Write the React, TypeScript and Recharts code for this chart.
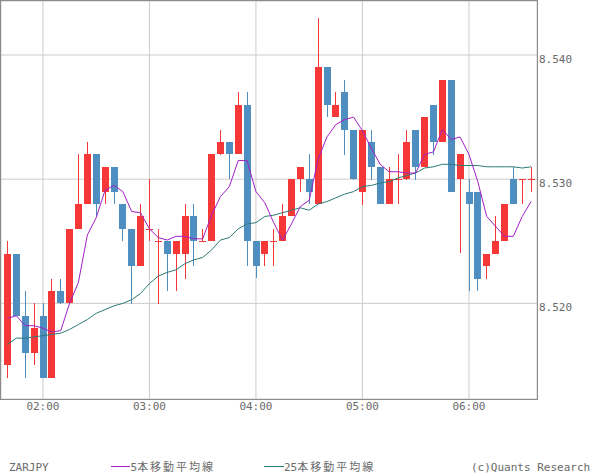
import { ComposedChart, Bar, Line, XAxis, YAxis, CartesianGrid } from 'recharts';

// 5-minute bars, ZARJPY
const times = [
  '01:40', '01:45', '01:50', '01:55', '02:00', '02:05', '02:10', '02:15', '02:20', '02:25', '02:30', '02:35',
  '02:40', '02:45', '02:50', '02:55', '03:00', '03:05', '03:10', '03:15', '03:20', '03:25', '03:30', '03:35',
  '03:40', '03:45', '03:50', '03:55', '04:00', '04:05', '04:10', '04:15', '04:20', '04:25', '04:30', '04:35',
  '04:40', '04:45', '04:50', '04:55', '05:00', '05:05', '05:10', '05:15', '05:20', '05:25', '05:30', '05:35',
  '05:40', '05:45', '05:50', '05:55', '06:00', '06:05', '06:10', '06:15', '06:20', '06:25', '06:30', '06:35',
];

const opens = [
  8.515, 8.524, 8.519, 8.516, 8.519, 8.514, 8.521, 8.520, 8.526, 8.528, 8.532, 8.529,
  8.531, 8.528, 8.526, 8.523, 8.526, 8.525, 8.525, 8.524, 8.524, 8.527, 8.525, 8.525,
  8.532, 8.533, 8.532, 8.536, 8.525, 8.524, 8.525, 8.525, 8.527, 8.530, 8.530, 8.528,
  8.539, 8.535, 8.537, 8.534, 8.529, 8.533, 8.531, 8.528, 8.530, 8.530, 8.534, 8.531,
  8.536, 8.533, 8.538, 8.530, 8.529, 8.529, 8.523, 8.524, 8.525, 8.530, 8.530, 8.530,
];
const highs = [
  8.525, 8.524, 8.521, 8.520, 8.520, 8.522, 8.522, 8.526, 8.532, 8.533, 8.532, 8.531,
  8.531, 8.528, 8.526, 8.528, 8.530, 8.526, 8.525, 8.525, 8.528, 8.528, 8.526, 8.532,
  8.534, 8.533, 8.537, 8.537, 8.525, 8.525, 8.526, 8.528, 8.530, 8.531, 8.532, 8.543,
  8.539, 8.537, 8.538, 8.534, 8.534, 8.534, 8.531, 8.531, 8.532, 8.534, 8.534, 8.535,
  8.536, 8.538, 8.538, 8.532, 8.530, 8.529, 8.524, 8.527, 8.528, 8.531, 8.530, 8.531,
];
const lows = [
  8.514, 8.519, 8.514, 8.515, 8.514, 8.514, 8.520, 8.520, 8.526, 8.528, 8.527, 8.528,
  8.528, 8.525, 8.520, 8.523, 8.525, 8.520, 8.521, 8.521, 8.522, 8.523, 8.525, 8.525,
  8.532, 8.530, 8.532, 8.523, 8.522, 8.523, 8.523, 8.525, 8.527, 8.529, 8.528, 8.528,
  8.535, 8.535, 8.532, 8.530, 8.528, 8.530, 8.528, 8.528, 8.528, 8.530, 8.530, 8.531,
  8.532, 8.533, 8.529, 8.524, 8.521, 8.521, 8.522, 8.524, 8.525, 8.528, 8.528, 8.529,
];
const closes = [
  8.524, 8.519, 8.516, 8.518, 8.514, 8.521, 8.520, 8.526, 8.528, 8.532, 8.528, 8.531,
  8.529, 8.526, 8.523, 8.527, 8.526, 8.525, 8.524, 8.525, 8.527, 8.525, 8.525, 8.532,
  8.533, 8.532, 8.536, 8.525, 8.523, 8.525, 8.525, 8.527, 8.530, 8.531, 8.529, 8.539,
  8.536, 8.536, 8.534, 8.530, 8.534, 8.531, 8.528, 8.530, 8.530, 8.533, 8.531, 8.535,
  8.533, 8.538, 8.529, 8.532, 8.528, 8.522, 8.524, 8.525, 8.528, 8.528, 8.530, 8.530,
];

// moving averages as drawn on the chart
const ma5 = [
  8.5188, 8.5190, 8.5182, 8.5182, 8.5180, 8.5177, 8.5178, 8.5200, 8.5217, 8.5255, 8.5269, 8.5291,
  8.5295, 8.5290, 8.5274, 8.5273, 8.5260, 8.5253, 8.5251, 8.5254, 8.5254, 8.5252, 8.5252, 8.5271,
  8.5286, 8.5294, 8.5315, 8.5315, 8.5290, 8.5281, 8.5265, 8.5251, 8.5264, 8.5278, 8.5283, 8.5316,
  8.5334, 8.5344, 8.5348, 8.5350, 8.5339, 8.5325, 8.5312, 8.5306, 8.5306, 8.5305, 8.5305, 8.5320,
  8.5322, 8.5340, 8.5332, 8.5334, 8.5320, 8.5298, 8.5270, 8.5262, 8.5254, 8.5254, 8.5270, 8.5282,
];
const ma25 = [
  8.5167, 8.5172, 8.5172, 8.5173, 8.5174, 8.5175, 8.5176, 8.5179, 8.5183, 8.5187, 8.5192, 8.5195,
  8.5198, 8.5200, 8.5203, 8.5208, 8.5216, 8.5222, 8.5225, 8.5227, 8.5232, 8.5235, 8.5237, 8.5243,
  8.5251, 8.5253, 8.5260, 8.5264, 8.5265, 8.5270, 8.5271, 8.5273, 8.5275, 8.5277, 8.5275, 8.5280,
  8.5282, 8.5285, 8.5288, 8.5290, 8.5294, 8.5295, 8.5297, 8.5298, 8.5301, 8.5303, 8.5305, 8.5309,
  8.5310, 8.5312, 8.5312, 8.5311, 8.5311, 8.5311, 8.5310, 8.5310, 8.5310, 8.5310, 8.5309, 8.5310,
];

const hourTicks = ['02:00', '03:00', '04:00', '05:00', '06:00'];
const priceTicks = [8.52, 8.53, 8.54];

const UP = '#f53737';
const DOWN = '#4f8ec1';
const MA5_COLOR = '#a21fc4';
const MA25_COLOR = '#2b7b76';
const TEXT = '#6a6a6a';
const FRAME = '#8c8c8c';
const FONT = "'DejaVu Sans Mono', monospace";

const data = times.map((time, i) => ({
  time,
  open: opens[i],
  high: highs[i],
  low: lows[i],
  close: closes[i],
  ma5: ma5[i],
  ma25: ma25[i],
}));

const Candle = (props: any) => {
  const { x, y, width, height, payload } = props;
  const { open, close, high, low } = payload;
  const color = close >= open ? UP : DOWN;
  const top = height >= 0 ? y : y + height;
  const h = Math.abs(height);
  const perUnit = high > low ? h / (high - low) : 0;
  const yOf = (v: number) => top + (high - v) * perUnit;
  const left = Math.round(x + width / 2 - 3.5);
  const bodyTop = Math.round(yOf(Math.max(open, close)));
  const bodyBot = Math.round(yOf(Math.min(open, close)));
  return (
    <g shapeRendering="crispEdges">
      <rect x={left + 3} y={Math.round(top)} width={1} height={Math.max(1, Math.round(h))} fill={color} />
      <rect x={left} y={bodyTop} width={7} height={Math.max(1, bodyBot - bodyTop)} fill={color} />
    </g>
  );
};

const XTick = ({ x, y, payload }: any) => (
  <text x={x} y={y + 11} textAnchor="middle" fontSize={11} fontFamily={FONT} fill={TEXT}>
    {payload.value}
  </text>
);

const YTick = ({ x, y, payload }: any) => (
  <text x={x} y={y + 8} textAnchor="start" fontSize={11} fontFamily={FONT} fill={TEXT}>
    {payload.value.toFixed(3)}
  </text>
);

// plot frame + legend row
const Overlay = () => (
  <svg width={600} height={475} style={{ position: 'absolute', left: 0, top: 0, pointerEvents: 'none' }}>
    <rect x={0.5} y={0.5} width={537} height={399} fill="none" stroke={FRAME} strokeWidth={1} />
    <g fontSize={11} fontFamily={FONT} fill={TEXT}>
      <text x={9} y={471}>ZARJPY</text>
      <line x1={111} x2={130} y1={466.5} y2={466.5} stroke={MA5_COLOR} strokeWidth={1} />
      <text x={130.5} y={471}>
        5<tspan fontFamily="'Noto Sans CJK JP', sans-serif" letterSpacing={2}>本移動平均線</tspan>
      </text>
      <line x1={264} x2={284} y1={466.5} y2={466.5} stroke={MA25_COLOR} strokeWidth={1} />
      <text x={284} y={471}>
        25<tspan fontFamily="'Noto Sans CJK JP', sans-serif" letterSpacing={2}>本移動平均線</tspan>
      </text>
      <text x={471} y={471}>(c)Quants Research</text>
    </g>
  </svg>
);

export default function App() {
  return (
    <div style={{ position: 'absolute', left: 0, top: 0, width: 600, height: 475, background: '#fff' }}>
      <ComposedChart width={600} height={475} data={data} margin={{ top: 1, right: 0, bottom: 56, left: 1 }}>
        <CartesianGrid stroke="#cccccc" horizontal vertical />
        <XAxis
          dataKey="time"
          type="category"
          ticks={hourTicks}
          interval={0}
          height={20}
          padding={{ left: 2, right: 1.5 }}
          tickSize={0}
          tickMargin={0}
          tick={<XTick />}
          axisLine={false}
        />
        <YAxis
          orientation="right"
          width={63}
          domain={[8.5123, 8.54435]}
          allowDataOverflow
          ticks={priceTicks}
          tickSize={0}
          tickMargin={2}
          tick={<YTick />}
          axisLine={false}
        />
        <Bar
          dataKey={(d: any) => [d.low, d.high]}
          barSize={7}
          shape={(p: any) => <Candle {...p} />}
          isAnimationActive={false}
        />
        <Line type="linear" dataKey="ma25" stroke={MA25_COLOR} strokeWidth={1} dot={false} isAnimationActive={false} />
        <Line type="linear" dataKey="ma5" stroke={MA5_COLOR} strokeWidth={1} dot={false} isAnimationActive={false} />
      </ComposedChart>
      <Overlay />
    </div>
  );
}
